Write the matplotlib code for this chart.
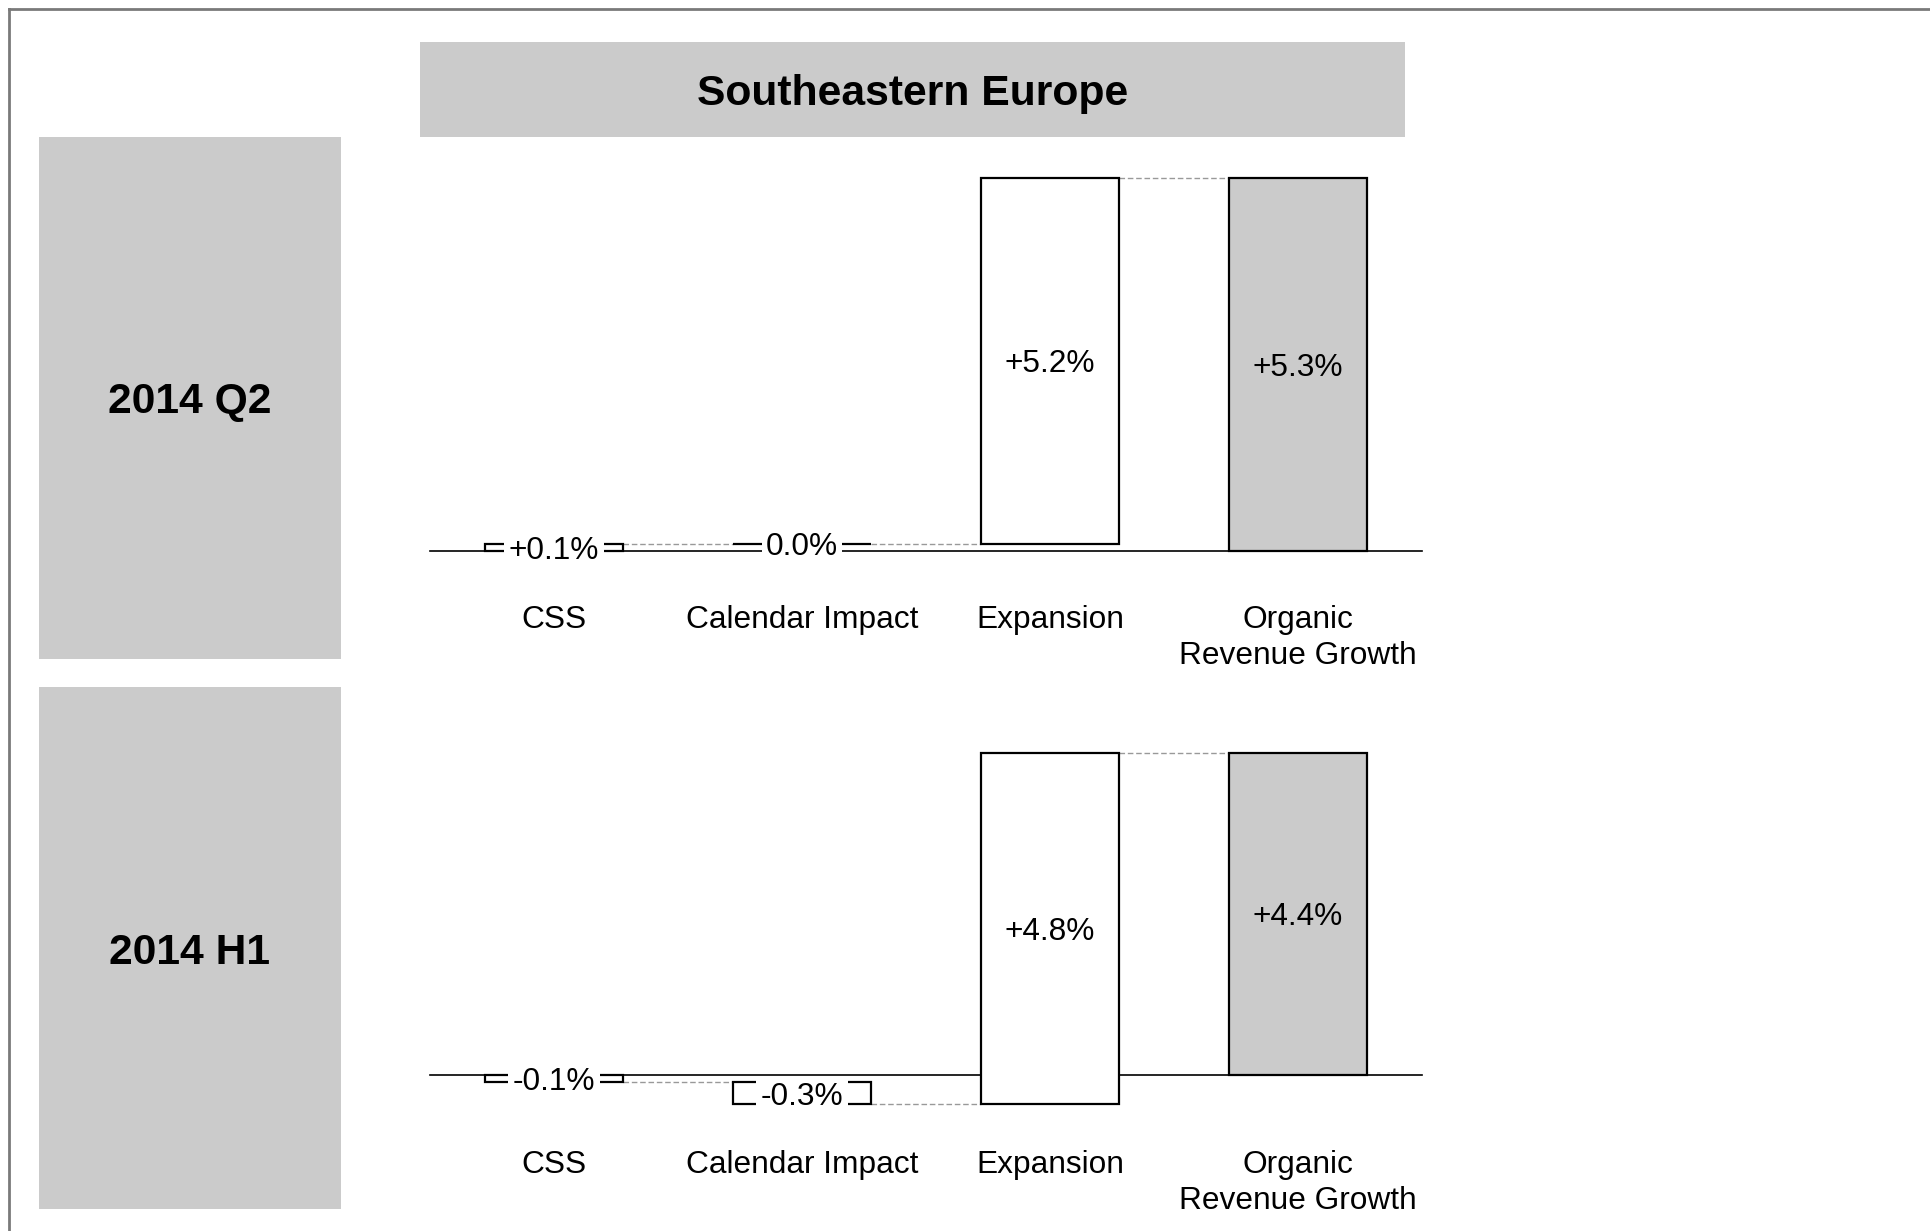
import matplotlib.pyplot as plt
from matplotlib.lines import Line2D
from matplotlib.patches import Rectangle
from matplotlib.transforms import blended_transform_factory

plt.rcParams['font.family'] = ['Liberation Sans', 'DejaVu Sans']

# ---- data ----
region = "Southeastern Europe"
periods = ["2014 Q2", "2014 H1"]
categories = ["CSS", "Calendar Impact", "Expansion", "Organic\nRevenue Growth"]
q2_steps = [0.1, 0.0, 5.2]
q2_total = 5.3
h1_steps = [-0.1, -0.3, 4.8]
h1_total = 4.4

W, H = 1930, 1231
GRAY = '#cbcbcb'
FS = 22.8
FS_BOLD = 30.7


def px_box(x0, y0, x1, y1):
    # pixel box (top-left origin) -> figure fraction [left, bottom, width, height]
    return [x0 / W, 1 - y1 / H, (x1 - x0) / W, (y1 - y0) / H]


def fmt(v):
    return f"{v:+.1f}%" if v != 0 else "0.0%"


fig = plt.figure(figsize=(W / 100, H / 100), dpi=100)

# frame lines (left and top)
fig.add_artist(Line2D([8.5 / W, 8.5 / W], [0, 1 - 8.5 / H], color='#7a7a7a', lw=2.0))
fig.add_artist(Line2D([8.5 / W, 1], [1 - 8.5 / H, 1 - 8.5 / H], color='#7a7a7a', lw=2.0))

# header box
x, y, w, h = px_box(420, 42, 1405, 137)
fig.add_artist(Rectangle((x, y), w, h, transform=fig.transFigure, color=GRAY, lw=0))
fig.text(x + w / 2, y + h / 2, region, ha='center', va='center_baseline',
         fontsize=FS_BOLD, fontweight='bold')

# period boxes
for (y0, y1), label in zip([(137, 659), (687, 1209)], periods):
    x, y, w, h = px_box(39, y0, 341, y1)
    fig.add_artist(Rectangle((x, y), w, h, transform=fig.transFigure, color=GRAY, lw=0))
    fig.text(x + w / 2, y + h / 2, label, ha='center', va='center_baseline',
             fontsize=FS_BOLD, fontweight='bold')


def waterfall(steps, total, top_px, bottom_px, label_px):
    # running totals for each step
    starts, ends = [], []
    run = 0.0
    for s in steps:
        starts.append(run)
        run += s
        ends.append(run)
    lo = min(0, min(starts), min(ends))
    hi = max(total, max(ends))

    ax = fig.add_axes(px_box(430, top_px, 1422, bottom_px))
    ax.set_xlim(-0.5, 3.5)
    ax.set_ylim(lo, hi)
    ax.axis('off')

    bw = 0.556
    ax.plot([-0.5, 3.5], [0, 0], color='black', lw=1.2, zorder=1, clip_on=False)

    for i, (s0, s1) in enumerate(zip(starts, ends)):
        ax.bar(i, s1 - s0, bottom=s0, width=bw, color='white', edgecolor='black',
               lw=1.6, zorder=2, clip_on=False)
    ax.bar(3, total, width=bw, color=GRAY, edgecolor='black', lw=1.6,
           zorder=2, clip_on=False)

    # dashed connectors
    levels = ends + [total]
    for i in range(3):
        ax.plot([i + bw / 2, i + 1 - bw / 2], [levels[i], levels[i]],
                color='#999999', lw=1.0, ls=(0, (4, 2)), zorder=1.5, clip_on=False)

    # value labels
    for i, (s0, s1, v) in enumerate(zip(starts, ends, steps)):
        mid = (s0 + s1) / 2
        if i < 2:
            ax.text(i, mid, fmt(v), ha='center', va='center_baseline', fontsize=FS,
                    zorder=3, bbox=dict(boxstyle='square,pad=0.14', fc='white', ec='none'))
        else:
            ax.text(i, mid, fmt(v), ha='center', va='center_baseline', fontsize=FS,
                    zorder=3)
    ax.text(3, total / 2, fmt(total), ha='center', va='center_baseline', fontsize=FS,
            zorder=3)

    # category labels
    tr = blended_transform_factory(ax.transData, fig.transFigure)
    for i, c in enumerate(categories):
        ax.text(i, 1 - label_px / H, c, ha='center', va='top', fontsize=FS,
                linespacing=1.25, transform=tr, clip_on=False)


waterfall(q2_steps, q2_total, 178, 551, 605)
waterfall(h1_steps, h1_total, 753, 1104, 1150)

fig.savefig('out.png', dpi=100, facecolor='white')
